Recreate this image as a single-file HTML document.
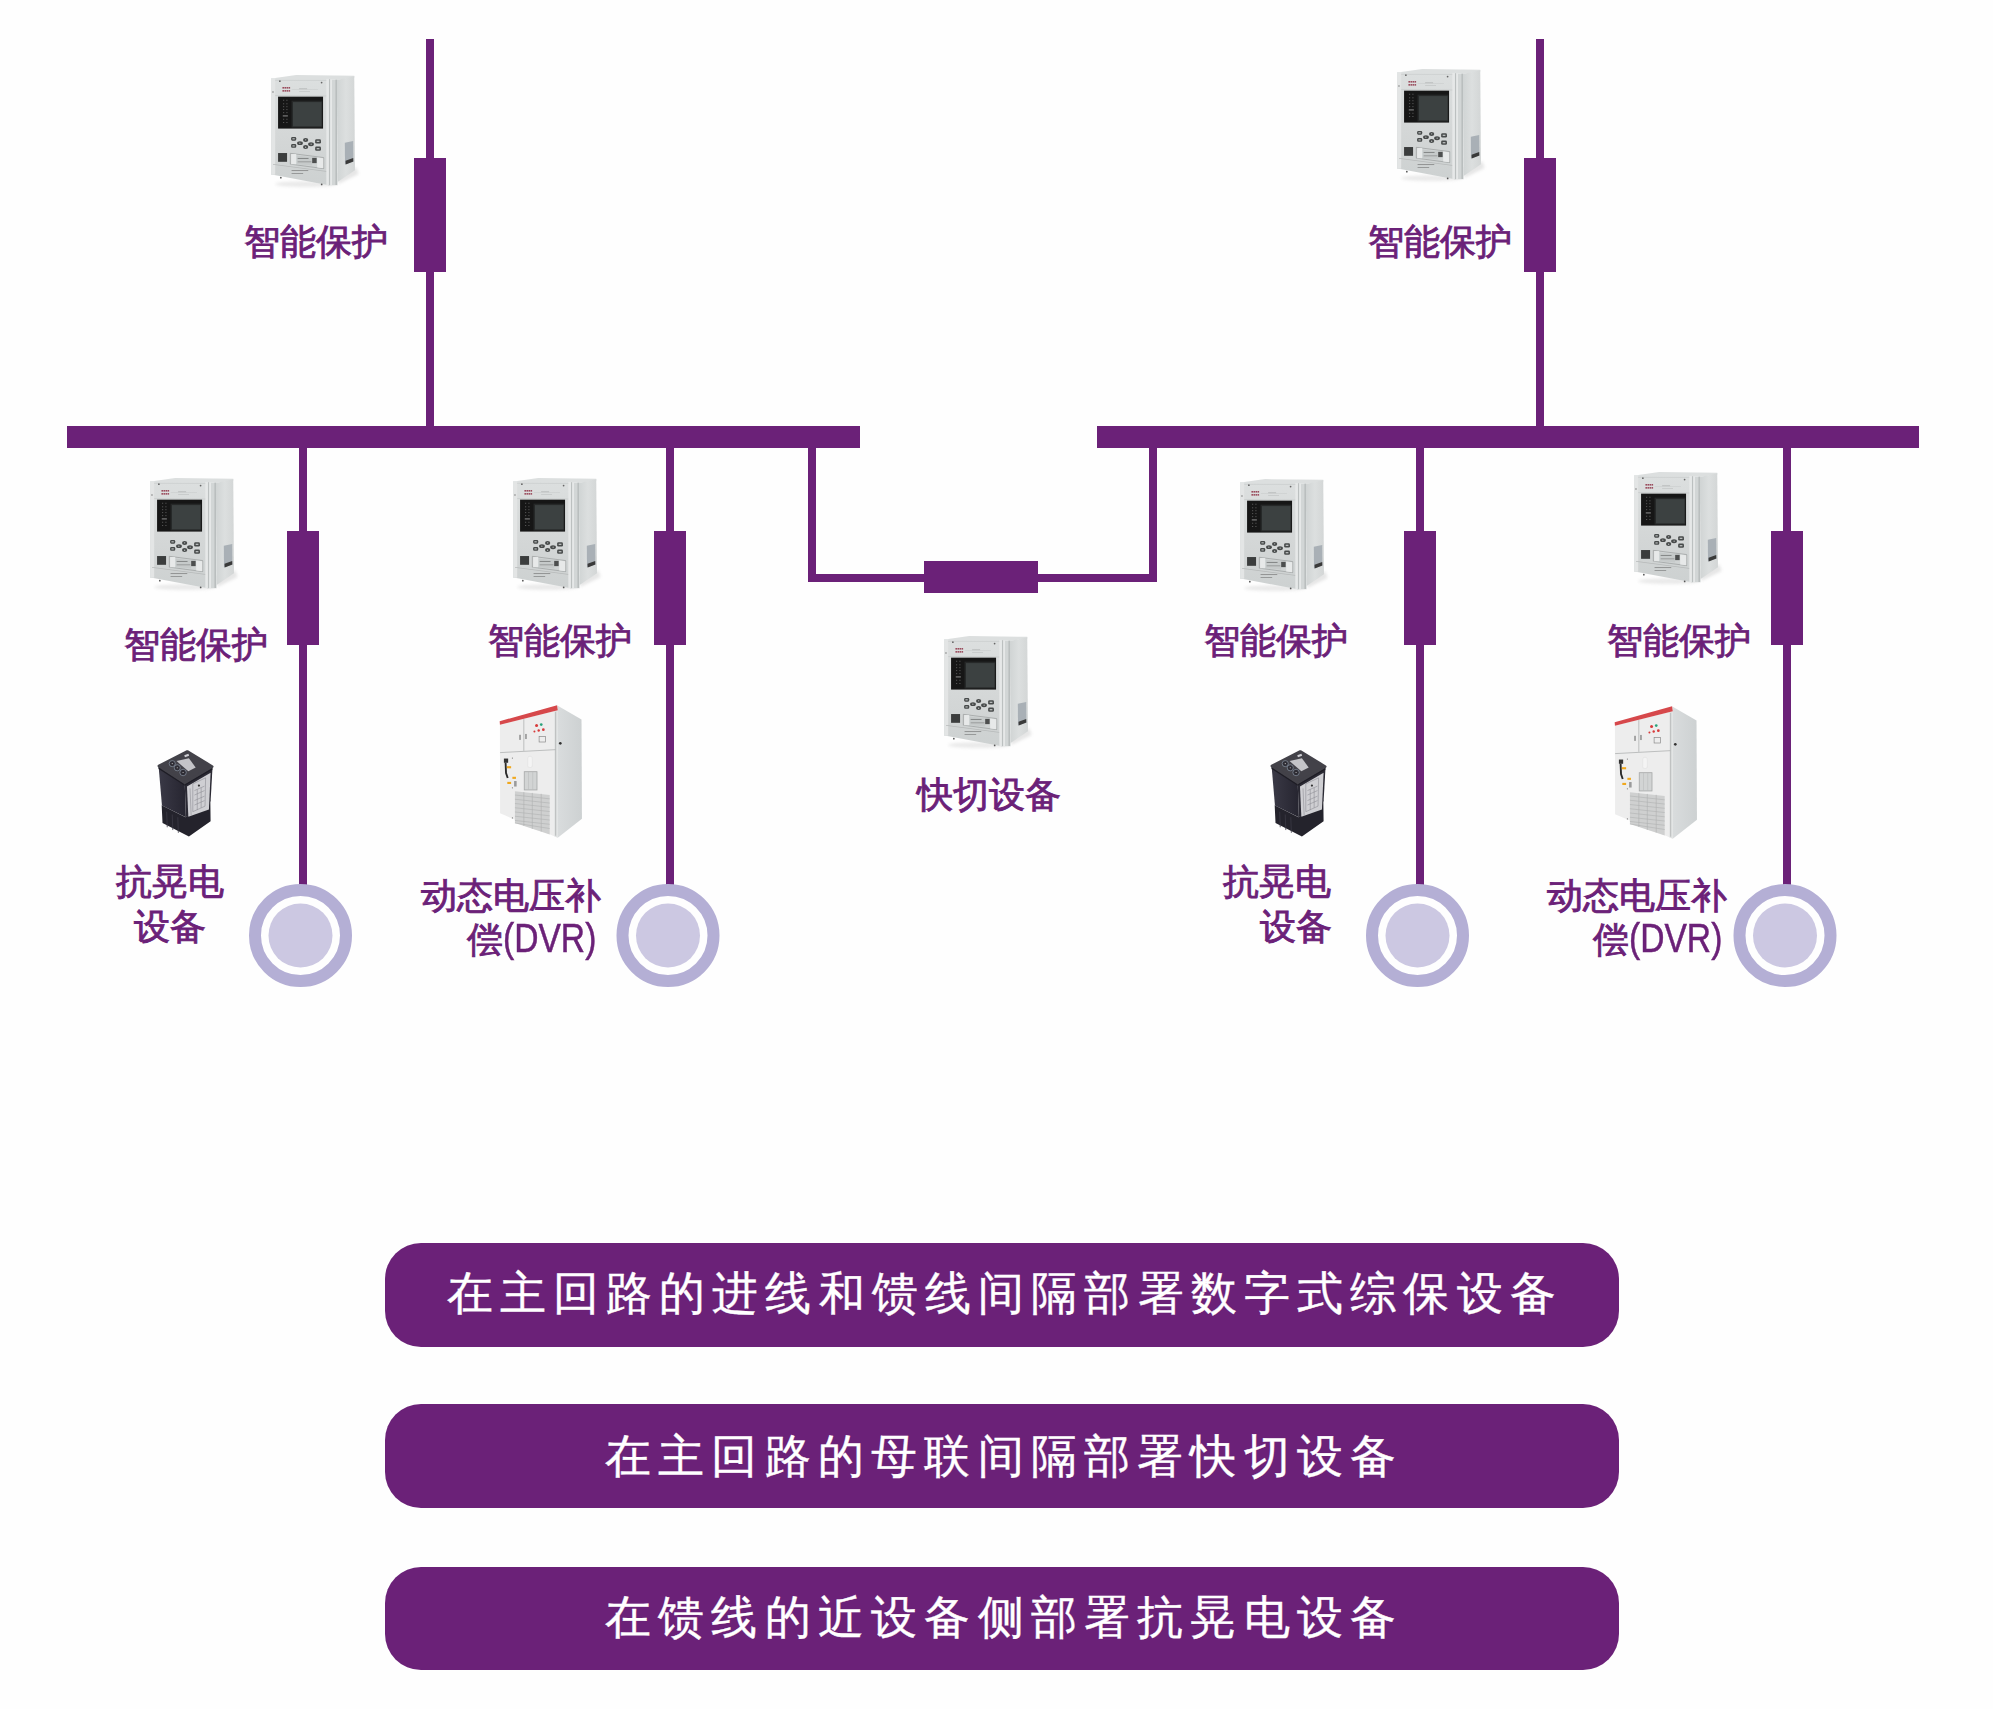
<!DOCTYPE html>
<html>
<head>
<meta charset="utf-8">
<style>
html,body{margin:0;padding:0;background:#fefefe;}
body{width:1993px;height:1709px;position:relative;overflow:hidden;font-family:"Liberation Sans",sans-serif;}
.p{position:absolute;background:#6b2178;}
.lbl{position:absolute;color:#6b2178;font-size:36px;line-height:44px;white-space:nowrap;-webkit-text-stroke:0.9px #6b2178;}
.lat{display:inline-block;font-size:40px;transform:scaleX(0.84);transform-origin:0 50%;-webkit-text-stroke:0.5px #6b2178;}
.pill{position:absolute;left:385px;width:1234px;height:104px;border-radius:36px;background:#6b2178;color:#fff;font-size:46px;line-height:104px;white-space:nowrap;-webkit-text-stroke:0.4px #fff;}
.pill span{position:absolute;top:0;}
</style>
</head>
<body>
<svg width="0" height="0" style="position:absolute">
<defs>
<linearGradient id="rgSide" x1="0" y1="0" x2="1" y2="0">
<stop offset="0" stop-color="#d0d4d4"/><stop offset="0.5" stop-color="#dcdfdf"/><stop offset="1" stop-color="#d3d6d6"/>
</linearGradient>
<linearGradient id="rgFront" x1="0" y1="0" x2="0" y2="1">
<stop offset="0" stop-color="#dcdfdf"/><stop offset="0.6" stop-color="#d3d6d6"/><stop offset="1" stop-color="#cdd1d1"/>
</linearGradient>
<filter id="blur8" x="-20%" y="-50%" width="140%" height="200%"><feGaussianBlur stdDeviation="25"/></filter>
<symbol id="relay" viewBox="0 0 1378 1709">
<ellipse cx="560" cy="1600" rx="420" ry="40" fill="#c4c4c4" opacity="0.35" filter="url(#blur8)"/>
<polygon points="1000,1450 1260,1370 1290,1460 1010,1600" fill="#c9c9c9" opacity="0.45" filter="url(#blur8)"/>
<!-- top face -->
<polygon points="140,138 430,98 1230,108 1232,130 990,165 880,150 140,152" fill="#dcdfdf"/>
<!-- side panel -->
<polygon points="990,165 1230,115 1240,1410 1000,1570" fill="url(#rgSide)"/>
<!-- side sticker -->
<polygon points="1100,1030 1215,1005 1218,1290 1102,1330" fill="#a9b0b6"/>
<polygon points="1110,1280 1215,1240 1218,1290 1112,1330" fill="#3a3a3a"/>
<!-- flange -->
<polygon points="870,150 990,165 1000,1615 870,1615" fill="#d2d6d6"/>
<rect x="880" y="155" width="14" height="1460" fill="#b9bdbd"/><rect x="900" y="158" width="22" height="1455" fill="#e8eaea"/>
<rect x="972" y="162" width="18" height="1450" fill="#b5b9b9"/>
<!-- front -->
<polygon points="85,140 880,150 880,1615 110,1472 85,1470" fill="url(#rgFront)"/>
<rect x="85" y="140" width="55" height="1330" fill="#e3e5e5"/>
<rect x="845" y="150" width="35" height="1465" fill="#e6e8e8"/>
<line x1="140" y1="170" x2="845" y2="172" stroke="#c6c9c9" stroke-width="8"/>
<line x1="140" y1="380" x2="845" y2="386" stroke="#c2c5c5" stroke-width="8"/>
<!-- logo -->
<g fill="#9a4b5c"><rect x="240" y="262" width="22" height="22"/><rect x="268" y="262" width="22" height="22"/><rect x="296" y="262" width="22" height="22"/><rect x="324" y="262" width="22" height="22"/><rect x="240" y="304" width="22" height="22"/><rect x="268" y="304" width="22" height="22"/><rect x="296" y="304" width="22" height="22"/><rect x="324" y="304" width="22" height="22"/></g>
<rect x="370" y="296" width="360" height="5" fill="#bfc2c2"/>
<rect x="470" y="280" width="110" height="12" fill="#b8bbbb"/>
<rect x="470" y="318" width="150" height="10" fill="#c2c5c5"/>
<!-- screen -->
<rect x="180" y="395" width="620" height="440" fill="#161616"/>
<rect x="365" y="450" width="425" height="370" fill="#262828"/>
<rect x="385" y="470" width="395" height="335" fill="#3c4141"/>
<g fill="#6a6a6a">
<rect x="250" y="438" width="14" height="12"/><rect x="295" y="438" width="14" height="12"/>
<rect x="250" y="488" width="14" height="12"/><rect x="295" y="488" width="14" height="12"/>
<rect x="250" y="528" width="14" height="12"/><rect x="295" y="528" width="14" height="12"/>
<rect x="250" y="568" width="14" height="12"/><rect x="295" y="568" width="14" height="12"/>
<rect x="250" y="610" width="14" height="12"/><rect x="295" y="610" width="14" height="12"/>
<rect x="245" y="650" width="70" height="20"/>
<rect x="250" y="700" width="14" height="12"/><rect x="295" y="700" width="14" height="12"/>
<rect x="250" y="745" width="14" height="12"/><rect x="295" y="745" width="14" height="12"/>
</g>
<!-- keypad -->
<g fill="#474a4a">
<rect x="360" y="951" width="70" height="52" rx="16"/>
<rect x="360" y="1048" width="70" height="52" rx="16"/>
<rect x="691" y="982" width="80" height="59" rx="18"/>
<rect x="691" y="1083" width="80" height="59" rx="18"/>
<ellipse cx="560" cy="992" rx="36" ry="28"/>
<ellipse cx="482" cy="1036" rx="40" ry="26"/>
<ellipse cx="634" cy="1051" rx="40" ry="27"/>
<ellipse cx="560" cy="1090" rx="36" ry="28"/>
</g>
<g fill="#b9bcbc">
<rect x="378" y="968" width="32" height="16"/><rect x="378" y="1066" width="32" height="16"/>
<rect x="712" y="1002" width="38" height="18"/><rect x="712" y="1103" width="38" height="18"/>
<circle cx="560" cy="990" r="9"/><circle cx="480" cy="1036" r="9"/><circle cx="636" cy="1050" r="9"/><circle cx="560" cy="1092" r="9"/>
</g>
<!-- lower -->
<rect x="180" y="1172" width="124" height="121" fill="#3b3d3d"/>
<polygon points="349,1176 809,1235 809,1387 349,1325" fill="none" stroke="#8e9292" stroke-width="8"/>
<rect x="360" y="1186" width="70" height="140" fill="#e7e9e9"/>
<polygon points="719,1235 802,1245 802,1380 719,1370" fill="#e7e9e9"/>
<polygon points="436,1207 650,1230 650,1345 436,1325" fill="#c6caca"/>
<rect x="650" y="1238" width="62" height="73" fill="#4d4f4f"/>
<rect x="450" y="1240" width="150" height="10" fill="#6a6d6d"/>
<rect x="450" y="1290" width="190" height="8" fill="#7a7d7d"/>
<polygon points="111,1324 843,1421 843,1430 111,1334" fill="#b6b9b9"/>
<g fill="#7a7c7c"><rect x="366" y="1410" width="230" height="10"/><rect x="366" y="1450" width="160" height="9"/></g>
<circle cx="218" cy="1511" r="12" fill="#555"/>
<circle cx="781" cy="1604" r="12" fill="#555"/>
<circle cx="205" cy="182" r="12" fill="#666"/>
<circle cx="780" cy="200" r="12" fill="#666"/>
<circle cx="110" cy="330" r="10" fill="#777"/>
</symbol>
<linearGradient id="agLeft" x1="0" y1="0" x2="1" y2="0">
<stop offset="0" stop-color="#3a3946"/><stop offset="1" stop-color="#262530"/>
</linearGradient>
<symbol id="sag" viewBox="0 0 1259 1709">

<!-- base -->
<polygon points="210,1085 640,1300 1085,1000 1090,1370 700,1645 225,1405" fill="#24232c"/>
<g stroke="#3b3a45" stroke-width="14"><line x1="300" y1="1200" x2="310" y2="1480"/><line x1="400" y1="1250" x2="410" y2="1530"/><line x1="500" y1="1300" x2="510" y2="1580"/></g>
<!-- left face -->
<polygon points="155,385 625,690 645,1300 215,1090" fill="url(#agLeft)"/>
<!-- right face -->
<polygon points="625,690 1125,395 1090,1010 645,1300" fill="#2b2a34"/>
<!-- label -->
<polygon points="665,745 1090,500 1060,1160 690,1290" fill="#cfcfd3"/>
<g stroke="#8a8a90" stroke-width="10" fill="none">
<polygon points="770,700 1000,590 990,1100 770,1200"/><line x1="800" y1="820" x2="980" y2="740"/><line x1="800" y1="900" x2="980" y2="820"/><line x1="800" y1="1000" x2="980" y2="920"/><line x1="800" y1="1080" x2="980" y2="1000"/><line x1="850" y1="800" x2="850" y2="1170"/><line x1="920" y1="770" x2="920" y2="1130"/>
<line x1="720" y1="780" x2="740" y2="1270"/>
</g>
<circle cx="880" cy="730" r="20" fill="#333"/>
<!-- top face -->
<polygon points="160,378 670,118 1118,388 625,682" fill="#434249" stroke="#434249" stroke-width="50" stroke-linejoin="round"/>
<polygon points="150,400 625,712 1120,420 1125,440 625,735 155,430" fill="#1e1d25"/>
<polygon points="478,290 700,238 822,405 690,472" fill="#c4c4c8"/>
<g fill="#2e2d35" stroke="#8c98a8" stroke-width="12">
<circle cx="400" cy="335" r="55"/><circle cx="490" cy="410" r="55"/><circle cx="595" cy="495" r="58"/>
</g>
<g fill="#ccc"><circle cx="400" cy="335" r="10"/><circle cx="490" cy="410" r="10"/><circle cx="595" cy="495" r="10"/></g>
<rect x="620" y="170" width="80" height="40" fill="#cfcfd4" transform="rotate(-20 660 190)"/>
</symbol>
<linearGradient id="cbSide" x1="0" y1="0" x2="1" y2="0">
<stop offset="0" stop-color="#d9dcdd"/><stop offset="1" stop-color="#cdd1d2"/>
</linearGradient>
<symbol id="cab" viewBox="0 0 1120 1709">

<!-- side -->
<polygon points="735,65 1020,230 1025,1400 740,1625" fill="url(#cbSide)"/>
<!-- front -->
<polygon points="58,292 735,120 740,1625 60,1335" fill="#ededed"/>
<polygon points="700,125 740,120 740,1625 700,1605" fill="#e0e2e2"/>
<!-- red top -->
<polygon points="55,250 732,62 740,122 58,292" fill="#d6484b"/>
<!-- door lines -->
<g stroke="#b4b6b6" stroke-width="10" fill="none">
<line x1="60" y1="620" x2="715" y2="585"/>
<line x1="340" y1="225" x2="340" y2="600"/>
<line x1="715" y1="140" x2="715" y2="1600"/>
</g>
<rect x="285" y="410" width="20" height="60" fill="#999"/>
<rect x="355" y="400" width="20" height="60" fill="#999"/>
<g fill="#d83a3a"><circle cx="490" cy="300" r="18"/><circle cx="465" cy="372" r="12"/><circle cx="515" cy="360" r="14"/><circle cx="570" cy="350" r="16"/></g>
<circle cx="545" cy="290" r="16" fill="#2aa37a"/>
<rect x="520" y="430" width="75" height="65" fill="none" stroke="#888" stroke-width="8"/>
<!-- lower door -->
<rect x="105" y="690" width="50" height="50" fill="#333"/>
<path d="M125 740 L130 860 L150 920" stroke="#2a2a2a" stroke-width="22" fill="none"/>
<g fill="#f0a81e"><rect x="140" y="780" width="50" height="25"/><rect x="205" y="905" width="42" height="25"/><rect x="145" y="965" width="45" height="25"/></g>
<rect x="225" y="955" width="30" height="65" fill="#9a9a9a"/>
<rect x="385" y="665" width="55" height="130" rx="20" fill="#f4f4f4" stroke="#ddd" stroke-width="6"/>
<rect x="345" y="845" width="150" height="215" fill="#d2d4d4" stroke="#a8aaaa" stroke-width="10"/>
<g stroke="#b6b8b8" stroke-width="6"><line x1="395" y1="850" x2="395" y2="1055"/><line x1="445" y1="850" x2="445" y2="1055"/></g>
<!-- vent -->
<polygon points="235,1075 645,1120 645,1585 235,1450" fill="#cfd0d0"/>
<g stroke="#b0b2b2" stroke-width="7">
<line x1="235" y1="1120" x2="645" y2="1165"/><line x1="235" y1="1170" x2="645" y2="1215"/><line x1="235" y1="1220" x2="645" y2="1265"/>
<line x1="235" y1="1270" x2="645" y2="1315"/><line x1="235" y1="1320" x2="645" y2="1365"/><line x1="235" y1="1370" x2="645" y2="1415"/>
<line x1="235" y1="1420" x2="645" y2="1465"/><line x1="645" y1="1515" x2="235" y2="1450"/>
<line x1="340" y1="1085" x2="340" y2="1485"/><line x1="440" y1="1095" x2="440" y2="1520"/><line x1="545" y1="1105" x2="545" y2="1550"/>
</g>
<circle cx="770" cy="510" r="16" fill="#333"/>
<circle cx="205" cy="685" r="7" fill="#777"/><circle cx="205" cy="1035" r="7" fill="#777"/><circle cx="205" cy="1390" r="7" fill="#777"/>
</symbol>
</defs>
</svg>

<!-- devices -->
<svg style="position:absolute;left:265px;top:68px" width="100" height="124"><use href="#relay"/></svg>
<svg style="position:absolute;left:1391px;top:62px" width="100" height="124"><use href="#relay"/></svg>
<svg style="position:absolute;left:144px;top:471px" width="100" height="124"><use href="#relay"/></svg>
<svg style="position:absolute;left:507px;top:471px" width="100" height="124"><use href="#relay"/></svg>
<svg style="position:absolute;left:938px;top:629px" width="100" height="124"><use href="#relay"/></svg>
<svg style="position:absolute;left:1234px;top:472px" width="100" height="124"><use href="#relay"/></svg>
<svg style="position:absolute;left:1628px;top:465px" width="100" height="124"><use href="#relay"/></svg>
<svg style="position:absolute;left:150px;top:745px" width="70" height="95"><use href="#sag"/></svg>
<svg style="position:absolute;left:1263px;top:745px" width="70" height="95"><use href="#sag"/></svg>
<svg style="position:absolute;left:495px;top:700px" width="95" height="145"><use href="#cab"/></svg>
<svg style="position:absolute;left:1610px;top:701px" width="95" height="145"><use href="#cab"/></svg>
<!-- top incoming lines -->
<div class="p" style="left:426px;top:39px;width:8px;height:390px"></div>
<div class="p" style="left:414px;top:158px;width:32px;height:114px"></div>
<div class="p" style="left:1536px;top:39px;width:8px;height:390px"></div>
<div class="p" style="left:1524px;top:158px;width:32px;height:114px"></div>
<!-- buses -->
<div class="p" style="left:67px;top:426px;width:793px;height:22px"></div>
<div class="p" style="left:1097px;top:426px;width:822px;height:22px"></div>
<!-- coupler -->
<div class="p" style="left:808px;top:446px;width:8px;height:136px"></div>
<div class="p" style="left:808px;top:574px;width:349px;height:8px"></div>
<div class="p" style="left:1149px;top:446px;width:8px;height:136px"></div>
<div class="p" style="left:924px;top:561px;width:114px;height:32px"></div>
<!-- feeders -->
<div class="p" style="left:299px;top:446px;width:8px;height:440px"></div>
<div class="p" style="left:287px;top:531px;width:32px;height:114px"></div>
<div class="p" style="left:666px;top:446px;width:8px;height:440px"></div>
<div class="p" style="left:654px;top:531px;width:32px;height:114px"></div>
<div class="p" style="left:1416px;top:446px;width:8px;height:440px"></div>
<div class="p" style="left:1404px;top:531px;width:32px;height:114px"></div>
<div class="p" style="left:1783px;top:446px;width:8px;height:440px"></div>
<div class="p" style="left:1771px;top:531px;width:32px;height:114px"></div>

<!-- circles -->
<svg style="position:absolute;left:0;top:0" width="1993" height="1709">
<g fill="#ccc8e2" stroke="none">
<circle cx="300.5" cy="935.5" r="32"/>
<circle cx="668" cy="935.5" r="32"/>
<circle cx="1417.5" cy="935.5" r="32"/>
<circle cx="1785" cy="935.5" r="32"/>
</g>
<g fill="none" stroke="#b4afd5" stroke-width="12">
<circle cx="300.5" cy="935.5" r="45.5"/>
<circle cx="668" cy="935.5" r="45.5"/>
<circle cx="1417.5" cy="935.5" r="45.5"/>
<circle cx="1785" cy="935.5" r="45.5"/>
</g>
</svg>

<!-- labels -->
<div class="lbl" style="left:244px;top:219.5px">智能保护</div>
<div class="lbl" style="left:1368px;top:219.5px">智能保护</div>
<div class="lbl" style="left:124px;top:622.5px">智能保护</div>
<div class="lbl" style="left:488px;top:618.5px">智能保护</div>
<div class="lbl" style="left:1204px;top:619px">智能保护</div>
<div class="lbl" style="left:1606.5px;top:619px">智能保护</div>
<div class="lbl" style="left:917px;top:772.5px">快切设备</div>
<div class="lbl" style="left:115.5px;top:860.3px">抗晃电</div>
<div class="lbl" style="left:134px;top:904.5px">设备</div>
<div class="lbl" style="left:1222.5px;top:860.3px">抗晃电</div>
<div class="lbl" style="left:1259.5px;top:904.5px">设备</div>
<div class="lbl" style="left:421px;top:874px">动态电压补</div>
<div class="lbl" style="left:466.5px;top:916px">偿<span class="lat">(DVR)</span></div>
<div class="lbl" style="left:1547px;top:874px">动态电压补</div>
<div class="lbl" style="left:1592.5px;top:916px">偿<span class="lat">(DVR)</span></div>

<!-- pills -->
<div class="pill" style="top:1243px"><span style="left:61.5px;top:-2.5px;letter-spacing:7.16px">在主回路的进线和馈线间隔部署数字式综保设备</span></div>
<div class="pill" style="top:1404px"><span style="left:220px;top:-0.5px;letter-spacing:7.22px">在主回路的母联间隔部署快切设备</span></div>
<div class="pill" style="top:1567px;height:103px;line-height:103px"><span style="left:220px;top:-0.8px;letter-spacing:7.22px">在馈线的近设备侧部署抗晃电设备</span></div>
</body>
</html>
